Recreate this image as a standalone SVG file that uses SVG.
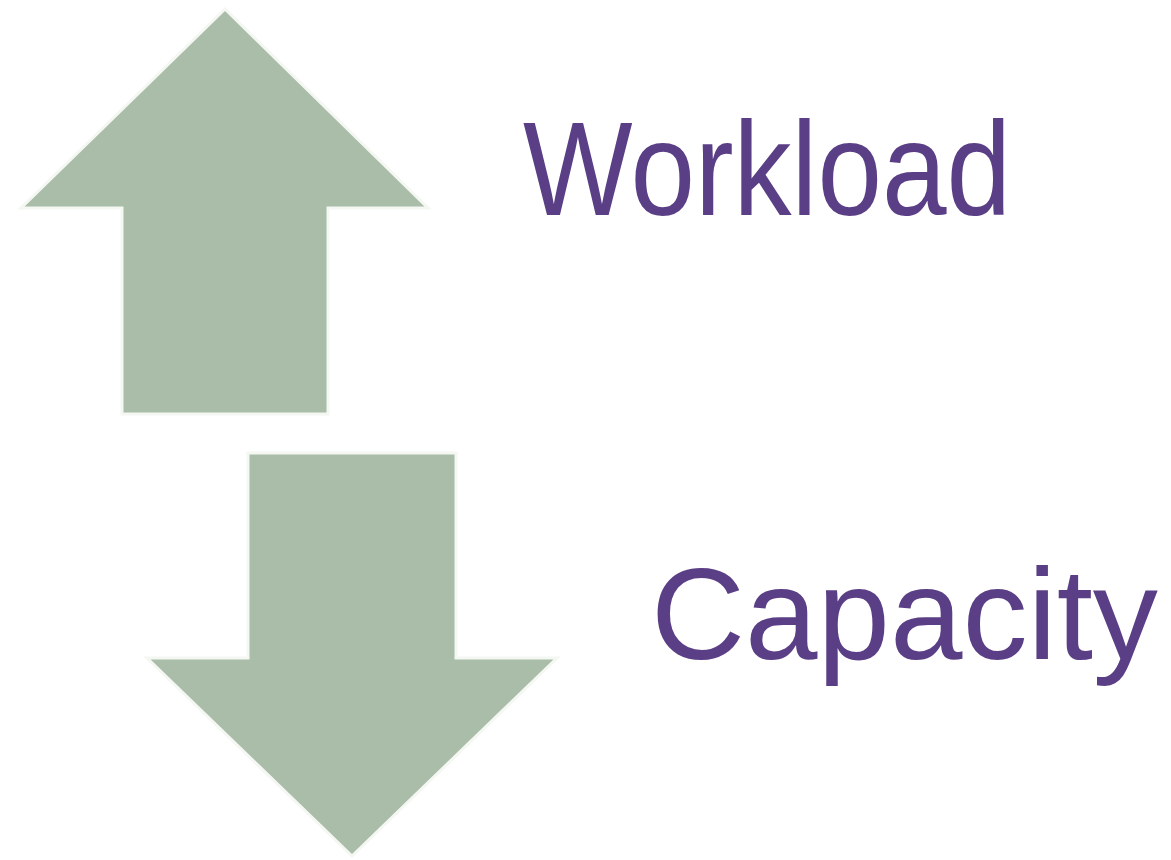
<svg xmlns="http://www.w3.org/2000/svg" width="1171" height="860" viewBox="0 0 1171 860">
<style>
.arrow{fill:#a9bda9;stroke:#f4f7f2;stroke-width:3;stroke-linejoin:miter}
.lbl{font-family:"Liberation Sans",Arial,sans-serif;fill:#5b3f86}
</style>
<rect width="1171" height="860" fill="#ffffff"/>
<g id="up-arrow">
<polygon class="arrow" points="225,9 428,208 328,208 328,414 122,414 122,208 21,208"/>
</g>
<g id="down-arrow">
<polygon class="arrow" points="248,453 456,453 456,658 557,658 352,856 147,658 248,658"/>
</g>
<g id="workload">
<text class="lbl" x="523" y="215" font-size="134" textLength="488" lengthAdjust="spacingAndGlyphs">Workload</text>
</g>
<g id="capacity">
<text class="lbl" x="651" y="659" font-size="129" textLength="507" lengthAdjust="spacingAndGlyphs">Capacity</text>
</g>
<g id="connectors"></g>
</svg>
